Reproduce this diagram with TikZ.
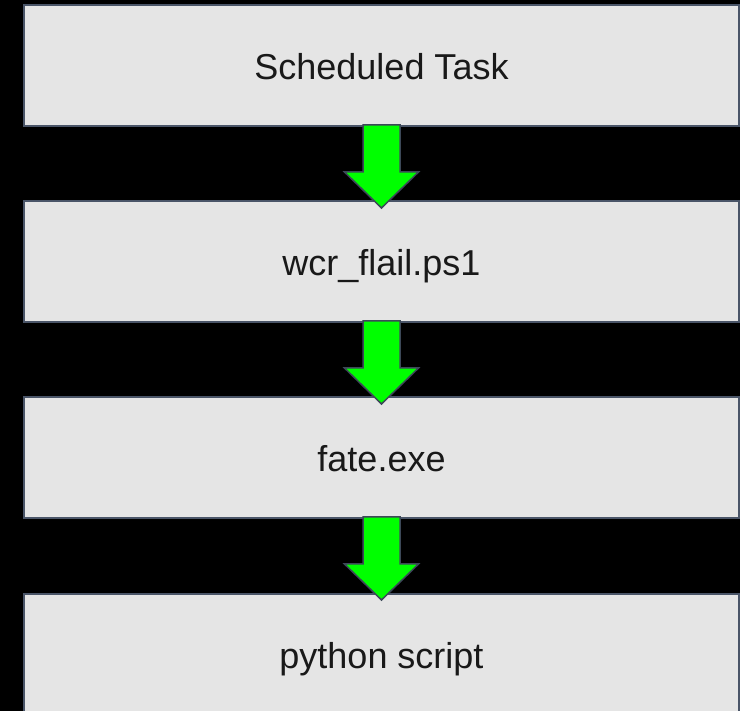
\documentclass[tikz,border=0pt]{standalone}
\usepackage{fontspec}
\setmainfont{Liberation Sans}
\usetikzlibrary{calc}
\definecolor{boxfill}{HTML}{E5E5E5}
\definecolor{boxline}{HTML}{4A5568}
\definecolor{arrowgreen}{HTML}{00FF00}
\definecolor{arrowline}{HTML}{3C4858}
\begin{document}
\begin{tikzpicture}[x=1pt,y=-1pt,
  stagebox/.style={draw=boxline, line width=2pt, fill=boxfill,
    minimum width=715pt, minimum height=121pt, inner sep=0pt,
    text height=28pt, text depth=0pt,
    text=black!90, font=\fontsize{36}{40}\selectfont},
  garrow/.style={fill=arrowgreen, draw=arrowline, line width=1.5pt, line join=miter}]
\fill[black] (0,0) rectangle (740,711);
\useasboundingbox (0,0) rectangle (740,711);
\node[stagebox] (b1) at (381.5,65.5) {Scheduled Task};
\node[stagebox] (b2) at (381.5,261.5) {wcr\_flail.ps1};
\node[stagebox] (b3) at (381.5,457.5) {fate.exe};
\node[stagebox] (b4) at (381.5,654.5) {python script};
\foreach \a in {b1,b2,b3}{
  \draw[garrow] ($(\a.south)+(-18.5,-2)$) -- ++(0,47) -- ++(-18.5,0)
    -- ++(37,36) -- ++(37,-36) -- ++(-18.5,0) -- ++(0,-47) -- cycle;
}
\end{tikzpicture}
\end{document}
